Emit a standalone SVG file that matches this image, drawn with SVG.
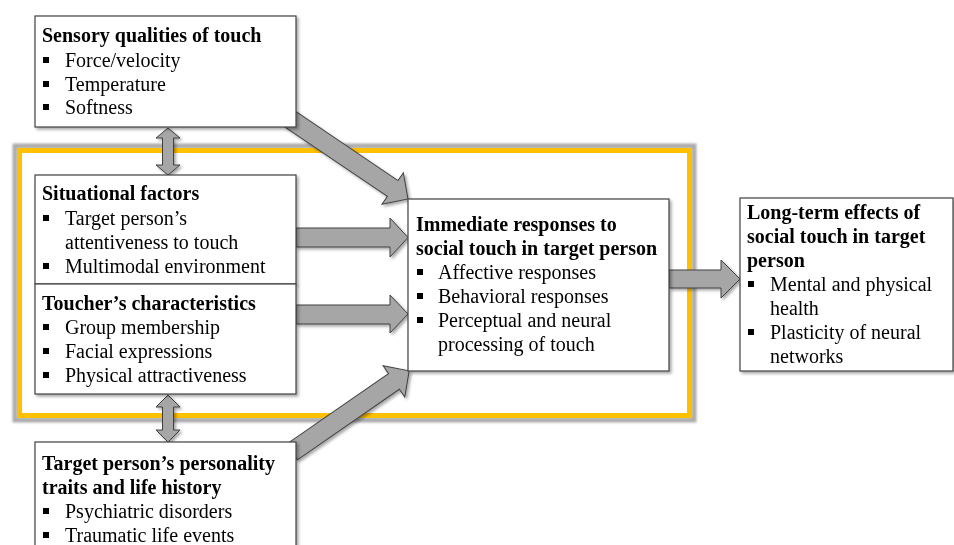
<svg xmlns="http://www.w3.org/2000/svg" width="954" height="545" viewBox="0 0 954 545">
<style>
text{font-family:"Liberation Serif","Times New Roman",serif;font-size:20px;fill:#000}
.t{font-weight:bold}
.box{fill:#fff;stroke:#404040;stroke-width:1.2}
.arr{fill:#A6A6A6;stroke:#404040;stroke-width:1}
.bul{fill:#000}
</style>
<defs>
<filter id="sh" x="-10%" y="-10%" width="120%" height="130%">
<feDropShadow dx="2" dy="2" stdDeviation="1.5" flood-color="#000" flood-opacity="0.35"/>
</filter>
<filter id="bl" x="-5%" y="-5%" width="110%" height="110%">
<feGaussianBlur stdDeviation="1"/>
</filter>
<symbol id="b" overflow="visible"><rect x="0" y="-10" width="6" height="6"/></symbol>
</defs>
<rect width="954" height="545" fill="#fff"/>
<g id="frame">
<rect x="15" y="146" width="679" height="274" fill="none" stroke="#ABABAB" stroke-width="5" filter="url(#bl)"/>
<rect x="19.5" y="150.5" width="670" height="265" fill="none" stroke="#FFC000" stroke-width="5"/>
</g>
<g id="connectors" filter="url(#sh)">
<polygon class="arr" transform="translate(290,119) rotate(34.1)" points="0,-9.5 124,-9.5 124,-19 142.5,0 124,19 124,9.5 0,9.5"/>
<polygon class="arr" transform="translate(292,452) rotate(-34.7)" points="0,-9.5 124,-9.5 124,-19 142.5,0 124,19 124,9.5 0,9.5"/>
<polygon class="arr" points="296,228 390,228 390,218 408,237.5 390,257 390,247 296,247"/>
<polygon class="arr" points="296,305 390,305 390,295 408,314 390,333 390,324 296,324"/>
<polygon class="arr" points="669,270 721,270 721,260 740,279 721,298 721,288 669,288"/>
<polygon class="arr" points="168,128 180,138 173.5,138 173.5,165 180,165 168,175 156,165 162.5,165 162.5,138 156,138"/>
<polygon class="arr" points="168,395 180,407 173.5,407 173.5,430 180,430 168,442 156,430 162.5,430 162.5,407 156,407"/>
</g>
<g id="sensory">
<rect class="box" x="35" y="16" width="261" height="111" filter="url(#sh)"/>
<text class="t" x="42" y="42">Sensory qualities of touch</text>
<use href="#b" x="43" y="67"/><text x="65" y="67">Force/velocity</text>
<use href="#b" x="43" y="91"/><text x="65" y="91">Temperature</text>
<use href="#b" x="43" y="114"/><text x="65" y="114">Softness</text>
</g>
<g id="situational">
<rect class="box" x="35" y="175" width="261" height="109" filter="url(#sh)"/>
<text class="t" x="42" y="200">Situational factors</text>
<use href="#b" x="43" y="225"/><text x="65" y="225">Target person’s</text>
<text x="65" y="249">attentiveness to touch</text>
<use href="#b" x="43" y="273"/><text x="65" y="273">Multimodal environment</text>
</g>
<g id="toucher">
<rect class="box" x="35" y="284" width="261" height="110" filter="url(#sh)"/>
<text class="t" x="42" y="310">Toucher’s characteristics</text>
<use href="#b" x="43" y="334"/><text x="65" y="334">Group membership</text>
<use href="#b" x="43" y="358"/><text x="65" y="358">Facial expressions</text>
<use href="#b" x="43" y="382"/><text x="65" y="382">Physical attractiveness</text>
</g>
<g id="target">
<rect class="box" x="35" y="442" width="261" height="120" filter="url(#sh)"/>
<text class="t" x="42" y="470">Target person’s personality</text>
<text class="t" x="42" y="494">traits and life history</text>
<use href="#b" x="43" y="518"/><text x="65" y="518">Psychiatric disorders</text>
<use href="#b" x="43" y="542"/><text x="65" y="542">Traumatic life events</text>
</g>
<g id="immediate">
<rect class="box" x="408" y="199" width="261" height="172" filter="url(#sh)"/>
<text class="t" x="416" y="231">Immediate responses to</text>
<text class="t" x="416" y="255">social touch in target person</text>
<use href="#b" x="417" y="279"/><text x="438" y="279">Affective responses</text>
<use href="#b" x="417" y="303"/><text x="438" y="303">Behavioral responses</text>
<use href="#b" x="417" y="327"/><text x="438" y="327">Perceptual and neural</text>
<text x="438" y="351">processing of touch</text>
</g>
<g id="longterm">
<rect class="box" x="740" y="198" width="213" height="173" filter="url(#sh)"/>
<text class="t" x="747" y="219">Long-term effects of</text>
<text class="t" x="747" y="243">social touch in target</text>
<text class="t" x="747" y="267">person</text>
<use href="#b" x="748" y="291"/><text x="770" y="291">Mental and physical</text>
<text x="770" y="315">health</text>
<use href="#b" x="748" y="339"/><text x="770" y="339">Plasticity of neural</text>
<text x="770" y="363">networks</text>
</g>
</svg>
